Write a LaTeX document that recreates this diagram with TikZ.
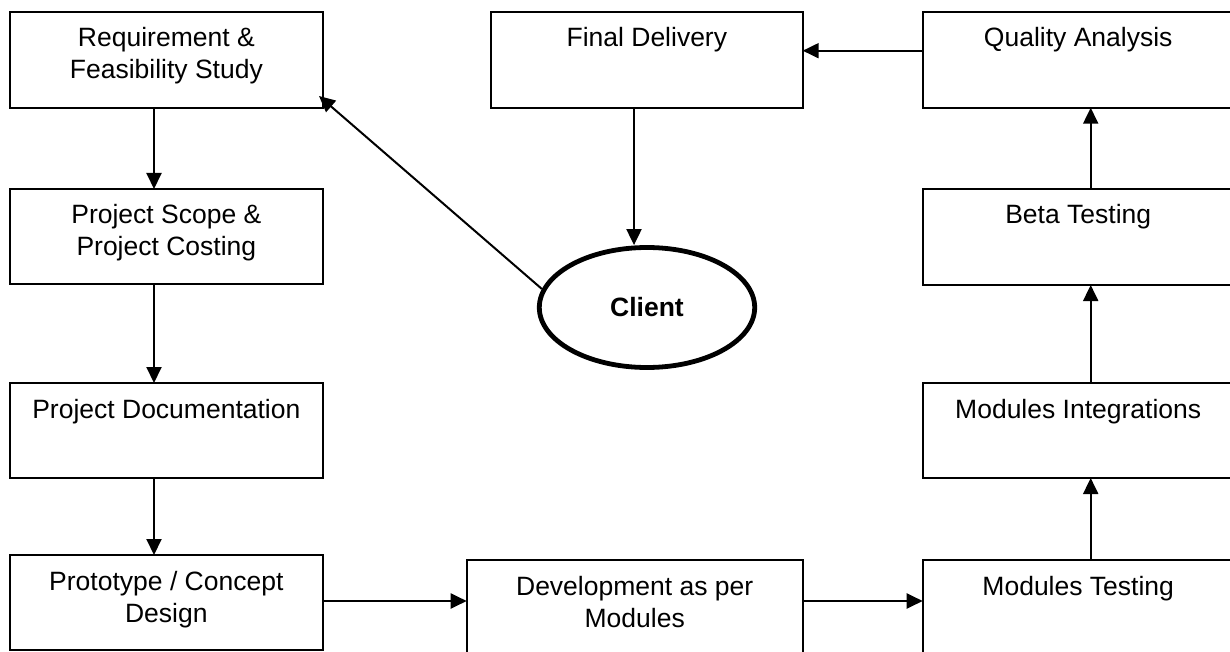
\documentclass[tikz,border=0pt]{standalone}
\usepackage{fontspec}
\setmainfont{Liberation Sans}
\usetikzlibrary{arrows.meta,shapes.geometric}
\newcommand\bxt[3]{\parbox[t][#2][t]{#1}{\centering\rule{0pt}{17.5pt}#3}}
\begin{document}
\begin{tikzpicture}[x=0.5pt,y=-0.5pt,
  box/.style={draw,line width=1.1pt,inner sep=0pt,outer sep=0pt,anchor=north west,
    font=\fontsize{13.25pt}{16pt}\selectfont},
  arr/.style={line width=1pt,-{Triangle[length=8pt,width=7.5pt]}}]
\useasboundingbox (0,0) rectangle (1230,652);
% boxes
\node[box] (req)   at (10,11.7)   {\bxt{156.35pt}{48pt}{Requirement \&\\Feasibility Study}};
\node[box] (fd)    at (491,11.7)  {\bxt{155.85pt}{48pt}{Final Delivery}};
\node[box] (qa)    at (922.7,11.7){\bxt{155.5pt}{48pt}{Quality Analysis}};
\node[box] (ps)    at (10,189)    {\bxt{156.35pt}{47.5pt}{Project Scope \&\\Project Costing}};
\node[box] (beta)  at (922.7,189) {\bxt{155.5pt}{48pt}{Beta Testing}};
\node[box] (pd)    at (10,383)    {\bxt{156.35pt}{47.5pt}{Project Documentation}};
\node[box] (mi)    at (922.7,383) {\bxt{155.5pt}{47.5pt}{Modules Integrations}};
\node[box] (proto) at (10,555)    {\bxt{156.35pt}{47.5pt}{Prototype / Concept\\Design}};
\node[box] (dev)   at (466.7,560) {\bxt{168pt}{47.5pt}{Development as per\\Modules}};
\node[box] (mt)    at (922.7,560) {\bxt{155.5pt}{47.5pt}{Modules Testing}};
% client
\node[draw,ellipse,line width=2.4pt,minimum width=107.7pt,minimum height=60pt,inner sep=0pt,
  font=\fontsize{13.25pt}{16pt}\selectfont\bfseries] (client) at (647,307.5) {Client};
% helper coordinates
\coordinate (lx) at (154,0);
\coordinate (rx) at (1090.7,0);
\coordinate (cx) at (634,0);
\coordinate (ty) at (0,50.7);
\coordinate (by) at (0,601);
\coordinate (reqin) at (319,96);
% connectors
\draw[arr] (req.south -| lx) -- (ps.north -| lx);
\draw[arr] (ps.south -| lx) -- (pd.north -| lx);
\draw[arr] (pd.south -| lx) -- (proto.north -| lx);
\draw[arr] (proto.east |- by) -- (dev.west |- by);
\draw[arr] (dev.east |- by) -- (mt.west |- by);
\draw[arr] (mt.north -| rx) -- (mi.south -| rx);
\draw[arr] (mi.north -| rx) -- (beta.south -| rx);
\draw[arr] (beta.north -| rx) -- (qa.south -| rx);
\draw[arr] (qa.west |- ty) -- (fd.east |- ty);
\draw[arr] (fd.south -| cx) -- (client.north -| cx);
\draw[arr] (client.170.7) -- (reqin);
\end{tikzpicture}
\end{document}
